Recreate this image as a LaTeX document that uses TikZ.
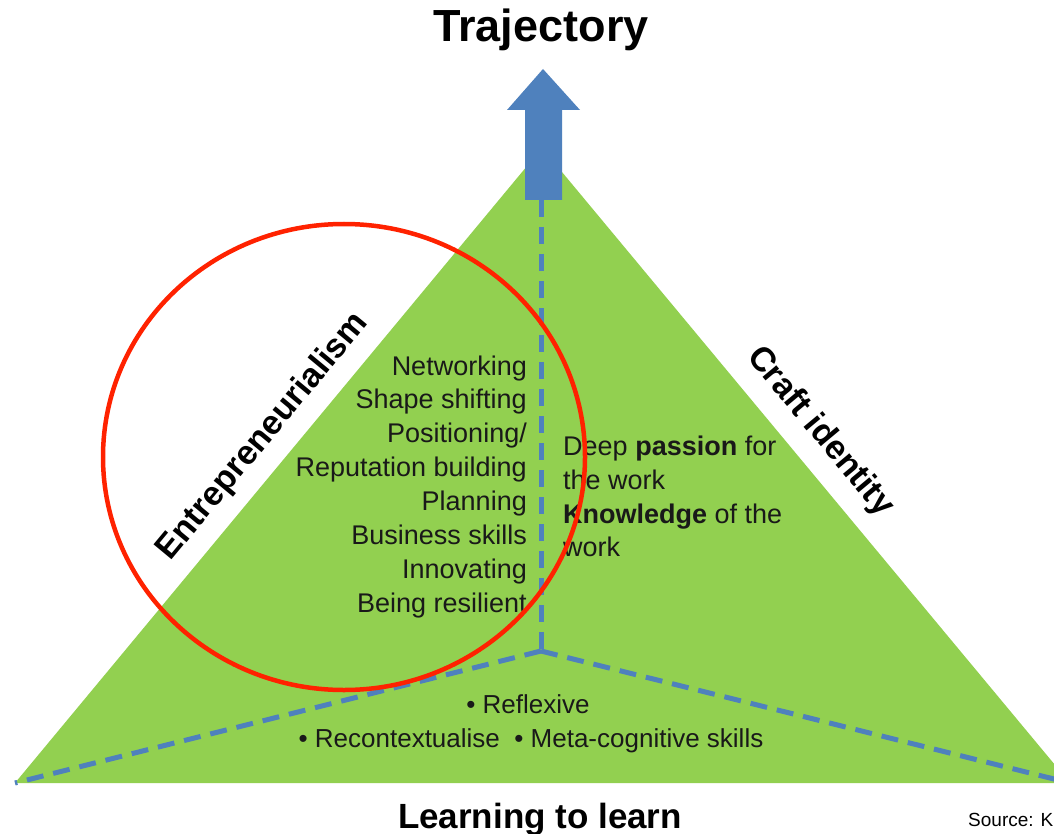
\documentclass[tikz,border=0pt]{standalone}
\usepackage{fontspec}
\setmainfont{Liberation Sans}
\definecolor{trigreen}{HTML}{92D050}
\definecolor{arrblue}{HTML}{4F81BD}
\definecolor{circred}{HTML}{FF2200}
\begin{document}
\begin{tikzpicture}[x=1pt,y=-1pt,
  dashln/.style={draw=arrblue, line width=5pt, dash pattern=on 17pt off 10pt},
  listtxt/.style={inner sep=0pt, font=\fontsize{27}{33}\selectfont, text=black!90},
  sidelabel/.style={inner sep=0pt, font=\fontsize{34}{40}\selectfont\bfseries},
  bigtitle/.style={inner sep=0pt, font=\fontsize{45}{50}\selectfont\bfseries}]
\useasboundingbox (0,0) rectangle (1054,834);
\fill[white] (0,0) rectangle (1054,834);
% triangle
\coordinate (apex) at (542,148);
\coordinate (bleft) at (15,783);
\coordinate (bright) at (1070,783);
\coordinate (ctr) at (541,651);
\coordinate (vtop) at (541,200);
\fill[trigreen] (apex) -- (bleft) -- (bright) -- cycle;
\draw[dashln] (vtop) -- (ctr);
\draw[dashln] (ctr) -- (bleft);
\draw[dashln] (ctr) -- (bright);
% arrow
\fill[arrblue] (525,200) -- (525,110) -- (507,110) -- (543,69) -- (580,110) -- (562,110) -- (562,200) -- cycle;
% titles
\node[bigtitle, anchor=base] (traj) at (541,42) {Trajectory};
\node[inner sep=0pt, font=\fontsize{35}{40}\selectfont\bfseries, anchor=base] (ltl) at (540,828) {Learning to learn};
\node[inner sep=0pt, font=\fontsize{19}{22}\selectfont, anchor=base west] (src) at (968,826) {Source: K};
% side labels
\node[sidelabel, rotate=50.3] (entre) at (263,437) {Entrepreneurialism};
\node[sidelabel, rotate=-50.2] (craft) at (820,432) {Craft identity};
% left list
\foreach \t [count=\i] in {Networking, Shape shifting, Positioning/, Reputation building, Planning, Business skills, Innovating, Being resilient}
  \node[listtxt, anchor=base east] (e\i) at (527, {375+33.9*(\i-1)}) {\t};
% right block
\node[listtxt, anchor=base west] (c1) at (563,455) {Deep \textbf{passion} for};
\node[listtxt, anchor=base west] (c2) at (563,489) {the work};
\node[listtxt, anchor=base west] (c3) at (563,523) {\textbf{Knowledge} of the};
\node[listtxt, anchor=base west] (c4) at (563,556) {work};
% bottom
\node[listtxt, font=\fontsize{26}{30}\selectfont, anchor=base] (b1) at (528,713) {• Reflexive};
\node[listtxt, font=\fontsize{26}{30}\selectfont, anchor=base] (b2) at (531,747) {• Recontextualise\ \ • Meta-cognitive skills};
% red ellipse
\draw[circred, line width=4.5pt] (344,457) ellipse [x radius=241, y radius=233];
\end{tikzpicture}
\end{document}
